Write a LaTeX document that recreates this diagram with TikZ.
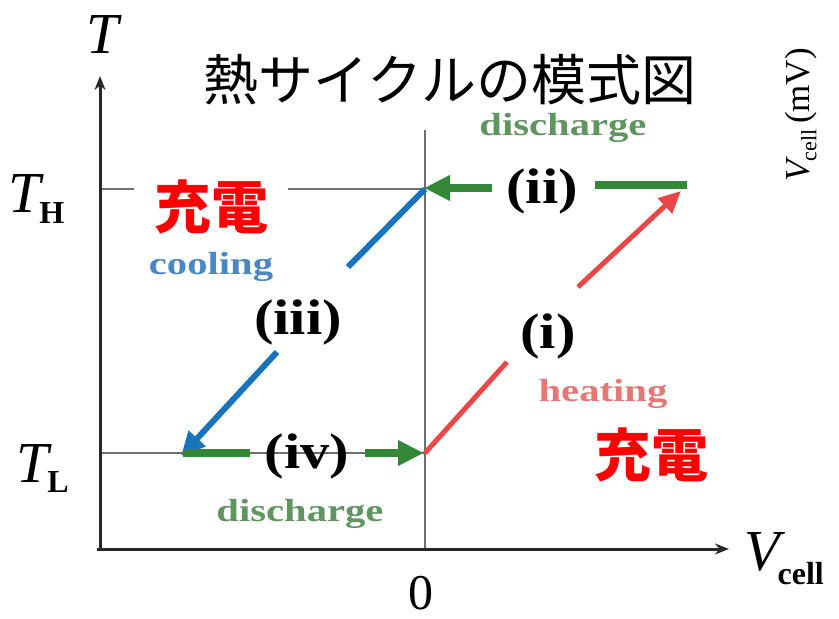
\documentclass[tikz,border=0pt]{standalone}
\usepackage{fontspec}
\setmainfont{Liberation Serif}
\newfontfamily\cjk{Noto Sans CJK JP}
\usetikzlibrary{arrows.meta}
\definecolor{gr}{RGB}{52,135,55}
\definecolor{grl}{RGB}{95,150,95}
\definecolor{bl}{RGB}{25,115,185}
\definecolor{bll}{RGB}{75,135,195}
\definecolor{rd}{RGB}{235,70,70}
\definecolor{rdl}{RGB}{230,120,115}
\definecolor{ax}{RGB}{40,40,40}
\definecolor{gd}{RGB}{110,110,110}
\definecolor{jred}{RGB}{255,0,0}
\begin{document}
\begin{tikzpicture}[x=1pt,y=-1pt,
  axisline/.style={line width=3pt,draw=ax,-{Stealth[length=14pt,width=11pt]}},
  guide/.style={line width=1.3pt,draw=gd},
  greenbar/.style={line width=8pt,draw=gr},
  greenarrow/.style={line width=8pt,draw=gr,-{Triangle[length=26pt,width=24pt]}},
  blueline/.style={line width=6pt,draw=bl},
  bluearrow/.style={line width=6pt,draw=bl,-{Triangle[length=24pt,width=22pt]}},
  redline/.style={line width=5pt,draw=rd},
  redarrow/.style={line width=5pt,draw=rd,-{Triangle[length=22pt,width=20pt]}},
  roman/.style={font=\bfseries\fontsize{50}{50}\selectfont,xscale=1.17,inner sep=0pt},
  proc/.style={font=\bfseries\fontsize{32}{32}\selectfont,xscale=1.27,inner sep=0pt},
  charge/.style={font=\cjk\bfseries\fontsize{57}{57}\selectfont,text=jred,fill=white,inner xsep=20pt,inner ysep=12pt},
  axlab/.style={font=\fontsize{58}{58}\selectfont,inner sep=0pt}
]
\useasboundingbox (0,0) rectangle (839,619);
% key points
\coordinate (corner) at (100,549);
\coordinate (ytip) at (100,76);
\coordinate (xtip) at (729,549);
\coordinate (TH0) at (100,189);
\coordinate (THx) at (425,189);
\coordinate (TL0) at (100,453);
\coordinate (TLx) at (425,453);
\coordinate (vtop) at (425,130);
\coordinate (vbot) at (425,549);
% guides
\draw[guide] (TH0) -- (THx);
\draw[guide] (TL0) -- (TLx);
\draw[guide] (vtop) -- (vbot);
% axes
\draw[axisline] (corner) -- (ytip);
\draw[axisline] ([xshift=-3pt]corner) -- (xtip);
% (ii) discharge
\coordinate (iiR) at (687,185);
\coordinate (iiL) at (595,185);
\coordinate (iiA) at (492,188);
\coordinate (iiB) at (424,188);
\draw[greenbar] (iiR) -- (iiL);
\draw[greenarrow] (iiA) -- (iiB);
% (iii) cooling
\coordinate (iiiA) at (348,267);
\coordinate (iiiB) at (277,352);
\coordinate (iiiC) at (181,456);
\draw[blueline] (THx) -- (iiiA);
\draw[bluearrow] (iiiB) -- (iiiC);
% (iv) discharge
\coordinate (ivL) at (183,453);
\coordinate (ivR) at (250,453);
\coordinate (ivA) at (365,453);
\coordinate (ivB) at (424,453);
\draw[greenbar] (ivL) -- (ivR);
\draw[greenarrow] (ivA) -- (ivB);
% (i) heating
\coordinate (iA) at (507,362);
\coordinate (iB) at (578,287);
\coordinate (iC) at (681,191);
\draw[redline] (TLx) -- (iA);
\draw[redarrow] (iB) -- (iC);
% labels
\node[roman] (lii) at (542,191) {(ii)};
\node[roman] (liii) at (298,322) {(iii)};
\node[roman] (liv) at (307,456) {(iv)};
\node[roman] (li) at (548,336) {(i)};
\node[proc,text=grl] (dtop) at (563,128) {discharge};
\node[proc,text=bll] (cool) at (211,267) {cooling};
\node[proc,text=rdl] (heat) at (603,394) {heating};
\node[proc,text=grl] (dbot) at (300,514) {discharge};
\node[charge] (ch1) at (211,207) {充電};
\node[charge] (ch2) at (651,455) {充電};
\node[font=\cjk\fontsize{55}{55}\selectfont,inner sep=0pt] (title) at (450,80) {熱サイクルの模式図};
% axis labels
\node[axlab,anchor=base west] (T) at (86,53) {\itshape T};
\node[axlab,anchor=base west] (TH) at (8,212) {\itshape T\kern-1pt\raisebox{-11pt}{\upshape\bfseries\fontsize{32}{32}\selectfont H}};
\node[axlab,anchor=base west] (TL) at (16,482) {\itshape T\kern-1pt\raisebox{-10pt}{\upshape\bfseries\fontsize{32}{32}\selectfont L}};
\node[axlab,anchor=base west] (Vc) at (744,570) {\itshape V\kern-2pt\raisebox{-14pt}{\upshape\bfseries\fontsize{32}{32}\selectfont cell}};
\node[font=\fontsize{50}{50}\selectfont,inner sep=0pt] (zero) at (421,593) {0};
\node[font=\fontsize{35}{35}\selectfont,rotate=90,inner sep=0pt] (Vmv) at (801,115) {\itshape V\kern-1pt\raisebox{-7pt}{\upshape\fontsize{22}{22}\selectfont cell}\,\upshape(mV)};
\end{tikzpicture}
\end{document}
